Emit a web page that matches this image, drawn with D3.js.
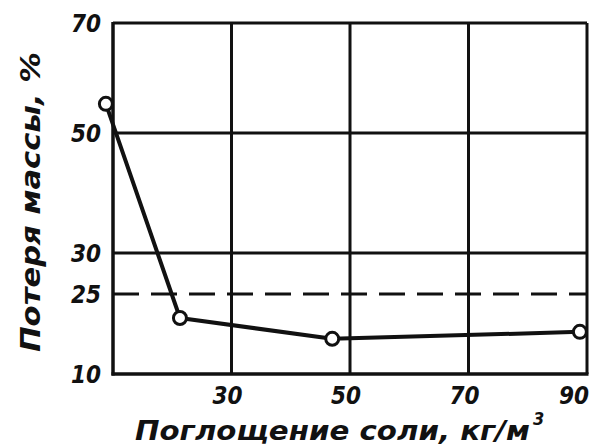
<!DOCTYPE html>
<html><head><meta charset="utf-8">
<script src="https://cdn.jsdelivr.net/npm/d3@7"></script>
<style>
html,body{margin:0;padding:0;background:#fff;}
text{font-family:"Liberation Sans Narrow","DejaVu Sans Condensed","Liberation Sans",sans-serif;font-style:italic;font-weight:bold;fill:#111;}
</style></head>
<body>
<svg id="c" width="596" height="446"></svg>
<script>
// data
const absorption = [8.8, 21.3, 47, 88.8];       // kg/m3
const massLoss   = [55.3, 20.5, 16.6, 17.9];    // %
const xTicks = [30, 50, 70, 90];
const yTicks = [10, 25, 30, 50, 70];
const yGrid  = [30, 50, 70];
const yDashed = [25];
const xGrid  = [30, 50, 70, 90];

const svg = d3.select("#c");
const L = 113, R = 587, T = 23, B = 374;
const x = d3.scaleLinear().domain([10, 90]).range([L, R]);
// scale as printed in the original (non-uniform spacing)
const y = d3.scaleLinear().domain([10, 25, 30, 50, 70]).range([B, 294, 253, 133, T]);
const ink = "#111";

// grid
svg.append("g").selectAll("line").data(xGrid).join("line")
  .attr("x1", d => x(d)).attr("x2", d => x(d)).attr("y1", T).attr("y2", B)
  .attr("stroke", ink).attr("stroke-width", 3);
svg.append("g").selectAll("line").data(yGrid).join("line")
  .attr("x1", L).attr("x2", R).attr("y1", d => y(d)).attr("y2", d => y(d))
  .attr("stroke", ink).attr("stroke-width", 3);
svg.append("g").selectAll("line").data(yDashed).join("line")
  .attr("x1", L).attr("x2", R).attr("y1", d => y(d)).attr("y2", d => y(d))
  .attr("stroke", ink).attr("stroke-width", 3).attr("stroke-dasharray", "26,12");

// frame (left + bottom axes)
svg.append("line").attr("x1", L).attr("x2", L).attr("y1", T - 1).attr("y2", B + 1.5)
  .attr("stroke", ink).attr("stroke-width", 3.5);
svg.append("line").attr("x1", L - 1.5).attr("x2", R + 1.5).attr("y1", B).attr("y2", B)
  .attr("stroke", ink).attr("stroke-width", 3.5);

// tick labels
svg.append("g").selectAll("text").data(xTicks).join("text")
  .attr("x", d => Math.min(x(d) - 4, 574)).attr("y", 404).attr("text-anchor", "middle")
  .attr("font-size", 24).text(d => d);
svg.append("g").selectAll("text").data(yTicks).join("text")
  .attr("x", 101).attr("y", d => y(d) + 9).attr("text-anchor", "end")
  .attr("font-size", 24).text(d => d);

// series
const pts = absorption.map((a, i) => [a, massLoss[i]]);
svg.append("path").datum(pts)
  .attr("d", d3.line().x(d => x(d[0])).y(d => y(d[1])))
  .attr("fill", "none").attr("stroke", ink).attr("stroke-width", 4)
  .attr("stroke-linejoin", "round");
svg.append("g").selectAll("circle").data(pts).join("circle")
  .attr("cx", d => x(d[0])).attr("cy", d => y(d[1])).attr("r", 6.5)
  .attr("fill", "#fff").attr("stroke", ink).attr("stroke-width", 3);

// axis titles
svg.append("text").attr("x", 135).attr("y", 440).attr("font-size", 26)
  .attr("textLength", 395).attr("lengthAdjust", "spacingAndGlyphs")
  .text("Поглощение соли, кг/м");
svg.append("text").attr("x", 533).attr("y", 425).attr("font-size", 18).text("3");
svg.append("text").attr("transform", "translate(40,352) rotate(-90)")
  .attr("font-size", 26).attr("textLength", 300).attr("lengthAdjust", "spacingAndGlyphs")
  .text("Потеря массы, %");
</script>
</body></html>
